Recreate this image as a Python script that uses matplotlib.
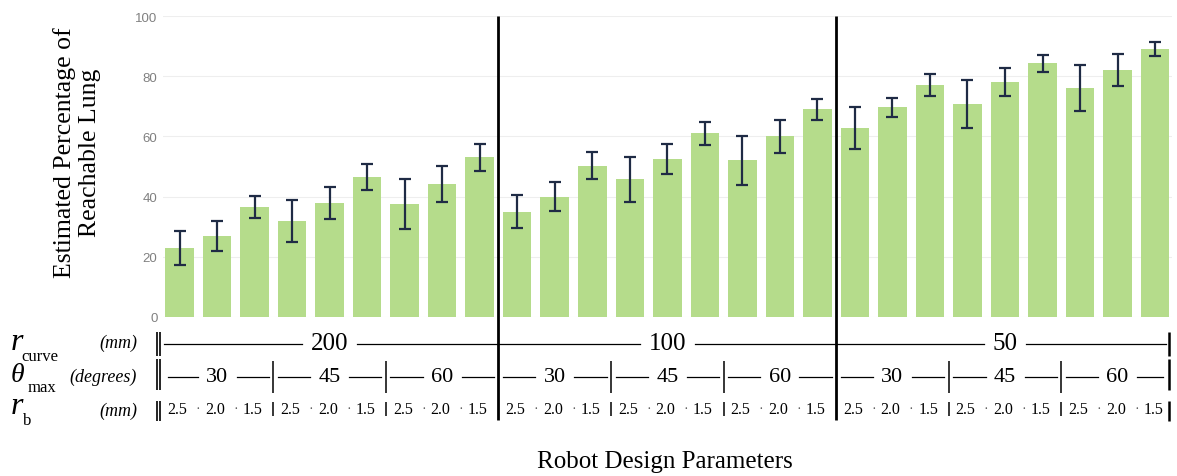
import matplotlib
matplotlib.use("Agg")
import matplotlib.pyplot as plt
from matplotlib.transforms import blended_transform_factory
import numpy as np

# ---- data ----
means = [23, 27, 36.5, 32, 38, 46.5, 37.5, 44.3, 53,
         35, 40, 50.3, 45.7, 52.5, 61, 52, 60, 69,
         62.8, 69.7, 77, 70.7, 78, 84.3, 76, 82.2, 89]
errs = [5.7, 5.0, 3.6, 7.0, 5.3, 4.2, 8.4, 6.0, 4.4,
        5.5, 4.7, 4.6, 7.4, 5.0, 3.9, 8.2, 5.4, 3.5,
        7.0, 3.2, 3.7, 7.9, 4.6, 2.9, 7.6, 5.3, 2.4]
r_curve = ["200", "100", "50"]
theta_max = ["30", "45", "60"]
r_b = ["2.5", "2.0", "1.5"]
yticks = [0, 20, 40, 60, 80, 100]

W, H = 1177, 477
fig = plt.figure(figsize=(W / 100, H / 100), dpi=100)
fig.patch.set_facecolor("white")

def fy(py):
    return 1 - py / H

def fx(px):
    return px / W

ax = fig.add_axes([fx(163), fy(318), fx(1172) - fx(163), fy(17) - fy(318)])
x = np.arange(len(means))
ax.bar(x, means, width=0.76, color="#b5dc8b", zorder=2)
ax.errorbar(x, means, yerr=errs, fmt="none", ecolor="#1f2b45",
            elinewidth=1.6, capsize=4.5, capthick=1.6, zorder=3)
ax.set_xlim(-0.44, 26.45)
ax.set_ylim(0, 100)
ax.set_yticks(yticks)
ax.set_yticklabels([str(t) for t in yticks], fontfamily="Liberation Sans",
                   fontsize=9.5, color="#808080")
ax.tick_params(axis="y", length=0, pad=4)
ax.set_xticks([])
for s in ax.spines.values():
    s.set_visible(False)
ax.grid(axis="y", color="#eeeeee", linewidth=0.8, zorder=0)

serif = "Liberation Serif"
fig.text(fx(77), fy(153), "Estimated Percentage of\nReachable Lung", rotation=90,
         ha="center", va="center", fontfamily=serif, fontsize=18.5,
         multialignment="center", linespacing=1.15)

tr = blended_transform_factory(ax.transData, fig.transFigure)
n_per_sec = 9
n_per_grp = 3
left, right = -0.44, 26.45

def seg(xd, py0, py1, lw=1.0):
    ax.plot([xd, xd], [fy(py0), fy(py1)], transform=tr, color="black",
            lw=lw, clip_on=False, solid_capstyle="butt")

def hseg(xd0, xd1, py, lw=0.9):
    ax.plot([xd0, xd1], [fy(py), fy(py)], transform=tr, color="black",
            lw=lw, clip_on=False)

# thick section separators
for k in range(1, len(r_curve)):
    xs = k * n_per_sec - 0.5
    seg(xs, 17, 421, lw=2.0)

# row segments for outer borders
rows = [(333, 357), (360, 391), (402, 422)]
for (a, b) in rows:
    seg(left - 0.17, a, b, lw=1.2)
    seg(left - 0.08, a, b, lw=1.2)
    seg(right - 0.08, a, b, lw=1.8)

# row 1: r_curve
row1_y = 345
for k, lab in enumerate(r_curve):
    s0 = k * n_per_sec - 0.5
    s1 = s0 + n_per_sec
    c = (s0 + s1) / 2
    half = 0.2 + 0.18 * len(lab)
    a0 = max(s0, left) + 0.02
    a1 = min(s1, right - 0.12) - 0.04
    hseg(a0, c - half, row1_y)
    hseg(c + half, a1, row1_y)
    ax.text(c, fy(row1_y - 1), lab, transform=tr, ha="center", va="center",
            fontfamily=serif, fontsize=18)

# row 2: theta_max
row2_y = 378
for k in range(len(r_curve)):
    for g, lab in enumerate(theta_max):
        g0 = k * n_per_sec + g * n_per_grp - 0.5
        g1 = g0 + n_per_grp
        c = (g0 + g1) / 2
        half = 0.52
        hseg(max(g0, left) + 0.12, c - half, row2_y)
        hseg(c + half, min(g1, right - 0.12) - 0.12, row2_y)
        ax.text(c, fy(row2_y), lab, transform=tr, ha="center", va="center",
                fontfamily=serif, fontsize=16)
        if g > 0:
            seg(g0, 362, 394, lw=1.1)

# row 3: r_b
row3_y = 410
for k in range(len(r_curve)):
    for g in range(len(theta_max)):
        base = k * n_per_sec + g * n_per_grp
        for i, lab in enumerate(r_b):
            ax.text(base + i - 0.05, fy(row3_y), lab, transform=tr, ha="center",
                    va="center", fontfamily=serif, fontsize=11.5)
            if i > 0:
                ax.text(base + i - 0.5, fy(row3_y), "·", transform=tr,
                        ha="center", va="center", fontfamily=serif,
                        fontsize=10, color="#555555")
        if g > 0:
            seg(base - 0.5, 403, 417, lw=1.1)

# row labels
fig.text(fx(17), fy(343), "r", ha="center", va="center", fontfamily=serif,
         fontstyle="italic", fontsize=23)
fig.text(fx(40), fy(357), "curve", ha="center", va="center", fontfamily=serif,
         fontsize=12)
fig.text(fx(17), fy(376), "θ", ha="center", va="center", fontfamily=serif,
         fontstyle="italic", fontsize=20)
fig.text(fx(42), fy(388), "max", ha="center", va="center", fontfamily=serif,
         fontsize=12)
fig.text(fx(17), fy(407), "r", ha="center", va="center", fontfamily=serif,
         fontstyle="italic", fontsize=23)
fig.text(fx(27), fy(421), "b", ha="center", va="center", fontfamily=serif,
         fontsize=12)
fig.text(fx(137), fy(343), "(mm)", ha="right", va="center", fontfamily=serif,
         fontstyle="italic", fontsize=13)
fig.text(fx(137), fy(377), "(degrees)", ha="right", va="center", fontfamily=serif,
         fontstyle="italic", fontsize=13)
fig.text(fx(137), fy(411), "(mm)", ha="right", va="center", fontfamily=serif,
         fontstyle="italic", fontsize=13)

fig.text(fx(665), fy(462), "Robot Design Parameters", ha="center", va="center",
         fontfamily=serif, fontsize=18)

fig.savefig("out.png", dpi=100, facecolor="white")
